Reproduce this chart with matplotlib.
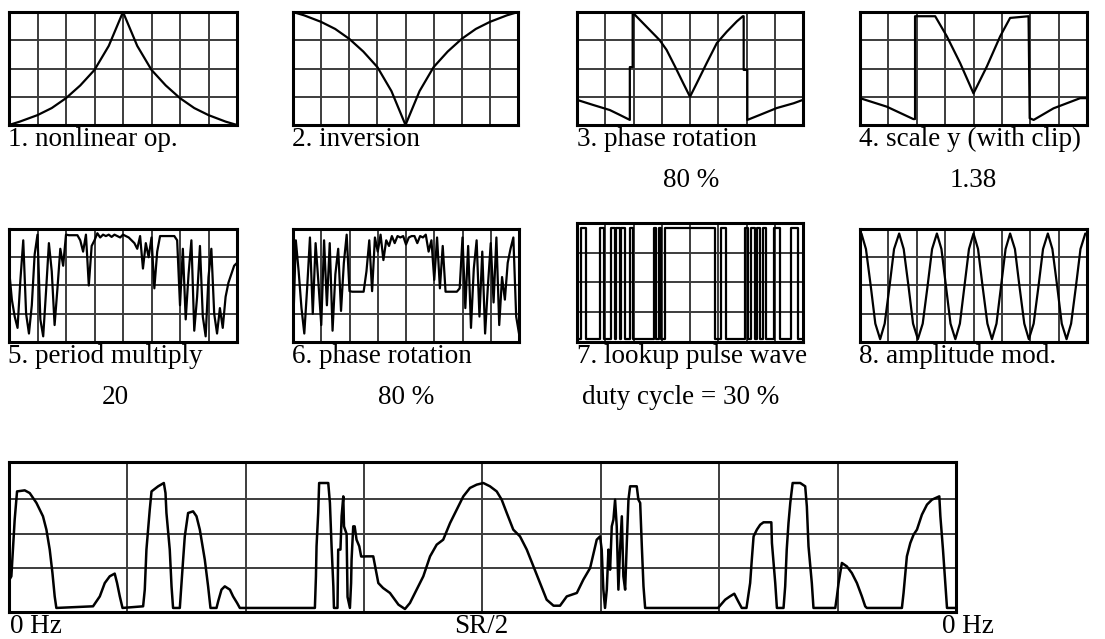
import matplotlib

matplotlib.use("Agg")
import matplotlib.pyplot as plt

FIG_W, FIG_H = 1105, 639
GRID_COLOR = "#3c3c3c"
TRACE_COLOR = "black"
FONT = ["Liberation Serif", "DejaVu Serif"]

# --- panel 1: nonlinear op. (x in grid columns 0..8, y in grid rows 0..4)
NONLIN_X = [0, 0.38, 1.0, 1.5, 2.0, 2.5, 3.0, 3.5, 4.0, 4.5, 5.0, 5.5, 6.0, 6.5, 7.0, 7.6, 8.0]
NONLIN_Y = [0, 0.12, 0.35, 0.6, 0.95, 1.4, 1.95, 2.8, 4.0, 2.8, 1.95, 1.4, 0.95, 0.6, 0.35, 0.12, 0]

# --- panel 2: inversion
INV_X = [0, 0.4, 1.0, 1.5, 2.0, 2.5, 3.0, 3.5, 4.0, 4.5, 5.0, 5.5, 6.0, 6.5, 7.0, 7.6, 8.0]
INV_Y = [4.0, 3.88, 3.65, 3.4, 3.05, 2.6, 2.05, 1.2, 0.0, 1.2, 2.05, 2.6, 3.05, 3.4, 3.65, 3.88, 4.0]

# --- panel 3: phase rotation 80 %
ROT_X = [0, 0.57, 1.16, 1.51, 1.87, 1.87, 1.97, 1.97, 2.05, 2.93, 3.17, 3.47, 3.76, 4.0,
         4.24, 4.59, 4.95, 5.3, 5.66, 5.87, 5.9, 5.9, 6.03, 6.03, 6.48, 7.07, 7.67, 8.0]
ROT_Y = [0.89, 0.71, 0.53, 0.36, 0.18, 2.05, 2.05, 4.0, 3.9, 3.0, 2.66, 2.07, 1.48, 1.0,
         1.48, 2.19, 2.9, 3.3, 3.67, 3.85, 3.85, 1.95, 1.95, 0.18, 0.36, 0.6, 0.77, 0.89]

# --- panel 4: scale y (with clip) 1.38
SCALE_X = [0, 0.94, 1.88, 1.94, 1.94, 2.65, 3.06, 3.53, 4.0, 4.47, 4.94, 5.29, 5.94,
           5.98, 6.12, 6.82, 7.76, 8.0]
SCALE_Y = [0.95, 0.65, 0.21, 0.21, 3.85, 3.85, 3.14, 2.19, 1.12, 2.07, 3.14, 3.79, 3.85,
           0.24, 0.18, 0.59, 0.95, 0.95]

# --- panel 5: period multiply 20 (sampled every 0.1 column)
PERIOD_Y = [2.6, 1.5, 0.9, 0.5, 2.2, 3.6, 1.0, 0.3, 1.3, 3.1,
            3.8, 0.8, 0.2, 1.8, 3.5, 2.5, 0.6, 1.9, 3.3, 2.7,
            3.8, 3.78, 3.78, 3.78, 3.78, 3.6, 3.2, 3.8, 2.0, 3.4,
            3.6, 3.85, 3.7, 3.8, 3.75, 3.8, 3.72, 3.8, 3.75, 3.7,
            3.8, 3.75, 3.7, 3.6, 3.5, 3.3, 3.75, 2.6, 3.5, 3.0,
            3.7, 1.9, 3.2, 3.75, 3.75, 3.75, 3.75, 3.75, 3.75, 3.6,
            1.3, 3.3, 0.8, 2.4, 3.6, 0.4, 1.6, 3.4, 0.9, 0.2,
            2.3, 3.3, 1.0, 0.3, 1.2, 0.5, 1.6, 2.1, 2.4, 2.7, 2.8]

# --- panel 6: phase rotation 80 % (sampled every 0.1 column)
PHASE2_Y = [0.3, 3.6, 2.5, 1.2, 0.3, 1.9, 3.7, 1.0, 3.5, 2.1,
            0.6, 3.6, 1.3, 3.5, 0.4, 2.4, 3.3, 1.1, 2.8, 3.8,
            1.8, 1.78, 1.78, 1.78, 1.78, 1.78, 2.5, 3.6, 1.8, 3.7,
            3.2, 3.8, 2.9, 3.6, 3.4, 3.75, 3.5, 3.75, 3.7, 3.75,
            3.45, 3.7, 3.75, 3.75, 3.5, 3.75, 3.7, 3.8, 3.2, 3.6,
            2.2, 3.7, 1.9, 3.4, 1.78, 1.78, 1.78, 1.78, 1.78, 1.9,
            3.7, 1.2, 3.4, 0.5, 2.6, 3.6, 0.9, 3.2, 0.3, 2.0,
            3.5, 1.4, 3.7, 0.6, 2.3, 1.5, 2.8, 3.3, 3.7, 0.9, 0.3]

# --- panel 7: lookup pulse wave, duty cycle 30 % (high intervals, in columns)
PULSE_ON = [0.15, 0.80, 1.22, 1.39, 1.57, 1.86, 2.73, 2.89, 3.10, 5.11, 5.94, 6.17, 6.37, 6.58, 6.96, 7.59]
PULSE_OFF = [0.33, 0.96, 1.33, 1.51, 1.69, 1.98, 2.81, 2.99, 4.87, 5.29, 6.05, 6.29, 6.49, 6.70, 7.17, 7.82]
PULSE_LOW, PULSE_HIGH = 0.1, 3.82

# --- panel 8: amplitude mod.
AM_X = [0.00, 0.05, 0.21, 0.38, 0.54, 0.71, 0.87, 1.04, 1.20, 1.38, 1.54, 1.71, 1.87,
        2.04, 2.21, 2.38, 2.54, 2.71, 2.87, 3.03, 3.19, 3.36, 3.52, 3.68, 3.84, 4.00,
        4.16, 4.32, 4.49, 4.65, 4.81, 4.97, 5.13, 5.29, 5.46, 5.62, 5.79, 5.95, 6.12,
        6.29, 6.45, 6.62, 6.78, 6.95, 7.11, 7.28, 7.44, 7.61, 7.77, 7.94, 8.00]
AM_Y = [3.80, 3.84, 3.29, 1.97, 0.65, 0.10, 0.65, 1.97, 3.29, 3.84, 3.29, 1.97, 0.65,
        0.10, 0.65, 1.97, 3.29, 3.84, 3.29, 1.97, 0.65, 0.10, 0.65, 1.97, 3.29, 3.84,
        3.29, 1.97, 0.65, 0.10, 0.65, 1.97, 3.29, 3.84, 3.29, 1.97, 0.65, 0.10, 0.65,
        1.97, 3.29, 3.84, 3.29, 1.97, 0.65, 0.10, 0.65, 1.97, 3.29, 3.84, 3.80]

# --- bottom spectrum, 0 Hz .. SR/2 .. 0 Hz (x in columns 0..8, y as panel fraction)
SPEC_X = [0.0, 0.0, 0.02, 0.048, 0.068, 0.133, 0.175, 0.232, 0.287, 0.316, 0.344, 0.367, 0.386, 0.4,
          0.71, 0.767, 0.809, 0.851, 0.893, 0.913, 0.936, 0.959,
          1.133, 1.147, 1.161, 1.189, 1.204, 1.26, 1.308, 1.322, 1.33, 1.358, 1.373, 1.386,
          1.443, 1.457, 1.471, 1.485, 1.513, 1.555, 1.584, 1.612, 1.626, 1.654, 1.682, 1.702,
          1.753, 1.767, 1.795, 1.823, 1.866, 1.893, 1.927, 1.95,
          2.584, 2.593, 2.598, 2.612, 2.62, 2.697, 2.711, 2.725, 2.74, 2.745,
          2.775, 2.781, 2.80, 2.81, 2.824, 2.83, 2.852, 2.86, 2.88, 2.89, 2.894, 2.908, 2.92,
          2.936, 2.959, 2.975, 2.993, 3.02, 3.077, 3.12, 3.16, 3.218, 3.29, 3.345, 3.387,
          3.443, 3.5, 3.557, 3.613, 3.668, 3.726, 3.782, 3.838, 3.894, 3.951, 4.007, 4.063,
          4.12, 4.162, 4.205, 4.26, 4.317, 4.374, 4.43, 4.486, 4.542, 4.6, 4.655, 4.712,
          4.797, 4.852, 4.909, 4.965, 4.993,
          5.007, 5.021, 5.035, 5.05, 5.064, 5.078, 5.092, 5.106, 5.12, 5.134, 5.148, 5.162,
          5.177, 5.19, 5.205, 5.219, 5.233, 5.247, 5.303, 5.317, 5.332, 5.346, 5.36, 5.374,
          5.99, 6.05, 6.09, 6.127, 6.16, 6.19, 6.23, 6.261, 6.275, 6.29, 6.318, 6.346, 6.374,
          6.44, 6.445, 6.473, 6.487, 6.543, 6.557, 6.57, 6.585, 6.6, 6.62, 6.684, 6.726, 6.74,
          6.754, 6.782, 6.796, 6.98, 6.994, 7.008, 7.036, 7.078, 7.12, 7.163, 7.205, 7.233,
          7.247, 7.543, 7.557, 7.585, 7.614, 7.642, 7.67, 7.712, 7.755, 7.797, 7.859, 7.868,
          7.89, 7.91, 7.924, 8.0]
SPEC_Y = [0.03, 0.21, 0.238, 0.616, 0.804, 0.811, 0.793, 0.727, 0.638, 0.549, 0.416, 0.26, 0.104, 0.027,
          0.038, 0.104, 0.193, 0.238, 0.256, 0.193, 0.104, 0.027,
          0.038, 0.149, 0.416, 0.682, 0.804, 0.838, 0.86, 0.793, 0.66, 0.416, 0.171, 0.027,
          0.027, 0.193, 0.349, 0.504, 0.66, 0.671, 0.638, 0.549, 0.482, 0.349, 0.171, 0.027,
          0.027, 0.071, 0.149, 0.171, 0.149, 0.104, 0.06, 0.027,
          0.027, 0.238, 0.438, 0.66, 0.86, 0.86, 0.727, 0.438, 0.171, 0.027,
          0.027, 0.416, 0.416, 0.64, 0.771, 0.571, 0.52, 0.1, 0.027, 0.193, 0.349, 0.571, 0.571,
          0.482, 0.438, 0.37, 0.37, 0.371, 0.371, 0.193, 0.16, 0.127, 0.049, 0.02, 0.06,
          0.149, 0.238, 0.371, 0.449, 0.482, 0.593, 0.682, 0.771, 0.827, 0.849, 0.86, 0.838,
          0.804, 0.749, 0.66, 0.549, 0.504, 0.416, 0.304, 0.193, 0.082, 0.042, 0.042, 0.104,
          0.127, 0.216, 0.293, 0.482, 0.504,
          0.416, 0.149, 0.027, 0.149, 0.416, 0.282, 0.571, 0.616, 0.749, 0.571, 0.149, 0.416,
          0.638, 0.238, 0.149, 0.46, 0.749, 0.838, 0.838, 0.749, 0.727, 0.438, 0.171, 0.027,
          0.027, 0.082, 0.104, 0.122, 0.071, 0.027, 0.027, 0.193, 0.349, 0.504, 0.549, 0.582, 0.598,
          0.598, 0.46, 0.193, 0.027, 0.027, 0.171, 0.416, 0.593, 0.727, 0.86, 0.86, 0.838, 0.704,
          0.438, 0.193, 0.027, 0.027, 0.104, 0.193, 0.327, 0.304, 0.26, 0.193, 0.104, 0.038,
          0.027, 0.027, 0.127, 0.371, 0.46, 0.516, 0.549, 0.649, 0.716, 0.749, 0.771, 0.638,
          0.416, 0.193, 0.027, 0.027]
SPEC_GRID_Y = [0.293, 0.52, 0.753]

# labels: text, x px, baseline px, alignment
LABELS = [
    ("1. nonlinear op.", 8, 146, "left"),
    ("2. inversion", 292, 146, "left"),
    ("3. phase rotation", 577, 146, "left"),
    ("80 %", 691, 187, "center"),
    ("4. scale y (with clip)", 859, 146, "left"),
    ("1.38", 973, 187, "center"),
    ("5. period multiply", 8, 363, "left"),
    ("20", 115, 404, "center"),
    ("6. phase rotation", 292, 363, "left"),
    ("80 %", 406, 404, "center"),
    ("7. lookup pulse wave", 577, 363, "left"),
    ("duty cycle = 30 %", 582, 404, "left"),
    ("8. amplitude mod.", 859, 363, "left"),
    ("0 Hz", 10, 633, "left"),
    ("SR/2", 481, 633, "center"),
    ("0 Hz", 942, 633, "left"),
]


def add_panel(fig, box, x_grid, y_grid, ylim):
    left, top, right, bottom = box
    ax = fig.add_axes([left / FIG_W, 1 - bottom / FIG_H, (right - left) / FIG_W, (bottom - top) / FIG_H])
    ax.set_xlim(0, 8)
    ax.set_ylim(*ylim)
    for gx in x_grid:
        ax.axvline(gx, color=GRID_COLOR, linewidth=1.4, zorder=1)
    for gy in y_grid:
        ax.axhline(gy, color=GRID_COLOR, linewidth=1.4, zorder=1)
    ax.set_xticks([])
    ax.set_yticks([])
    for spine in ax.spines.values():
        spine.set_linewidth(2.2)
        spine.set_color("black")
        spine.set_zorder(4)
    return ax


def pulse_trace():
    xs, ys = [0.0], [PULSE_LOW]
    for on, off in zip(PULSE_ON, PULSE_OFF):
        xs += [on, on, off, off]
        ys += [PULSE_LOW, PULSE_HIGH, PULSE_HIGH, PULSE_LOW]
    xs.append(8.0)
    ys.append(PULSE_LOW)
    return xs, ys


def main() -> None:
    fig = plt.figure(figsize=(FIG_W / 100, FIG_H / 100), dpi=100)
    fig.patch.set_facecolor("white")

    col_lines = range(1, 8)
    row_lines = [1, 2, 3]
    step_x = [i / 10 for i in range(81)]
    px, py = pulse_trace()

    panels = [
        ((9, 12, 237, 125), NONLIN_X, NONLIN_Y),
        ((293, 12, 518, 125), INV_X, INV_Y),
        ((577, 12, 803, 125), ROT_X, ROT_Y),
        ((860, 12, 1087, 125), SCALE_X, SCALE_Y),
        ((9, 229, 237, 342), step_x, PERIOD_Y),
        ((293, 229, 519, 342), step_x, PHASE2_Y),
        ((577, 223, 803, 342), px, py),
        ((860, 229, 1087, 342), AM_X, AM_Y),
    ]
    for box, xs, ys in panels:
        ax = add_panel(fig, box, col_lines, row_lines, (0, 4))
        ax.plot(xs, ys, color=TRACE_COLOR, linewidth=1.6, zorder=3)

    ax = add_panel(fig, (9, 462, 956, 612), col_lines, SPEC_GRID_Y, (0, 1))
    ax.plot(SPEC_X, SPEC_Y, color=TRACE_COLOR, linewidth=1.8, zorder=3)

    for text, x, y, ha in LABELS:
        fig.text(x / FIG_W, 1 - y / FIG_H, text, ha=ha, va="baseline",
                 family=FONT, fontsize=19.5, color="black")

    fig.savefig("out.png", dpi=100, facecolor="white")
    plt.close(fig)


if __name__ == "__main__":
    main()
